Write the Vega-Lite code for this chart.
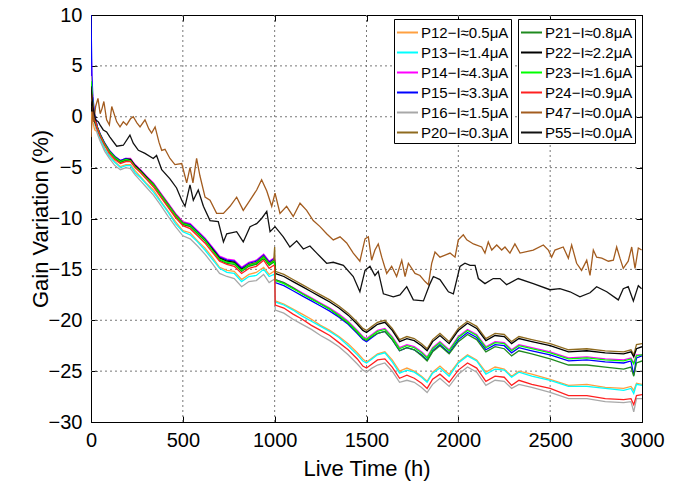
{
  "$schema": "https://vega.github.io/schema/vega-lite/v6.json",
  "width": 551,
  "height": 407,
  "autosize": {"type": "none"},
  "padding": {"left": 91, "top": 15, "right": 40, "bottom": 62},
  "background": "white",
  "config": {
    "view": {"stroke": "black", "strokeWidth": 1},
    "font": "Liberation Sans",
    "axis": {"labelFont": "Liberation Sans", "titleFont": "Liberation Sans", "labelColor": "black", "titleColor": "black", "domainColor": "black", "tickColor": "black", "titleFontWeight": "normal", "labelOverlap": false, "labelFlush": false},
    "legend": {"labelFont": "Liberation Sans"}
  },
  "datasets": {
    "gridx": [{"gx": 500}, {"gx": 1000}, {"gx": 1500}, {"gx": 2000}, {"gx": 2500}],
    "gridy": [{"gy": -25}, {"gy": -20}, {"gy": -15}, {"gy": -10}, {"gy": -5}, {"gy": 0}, {"gy": 5}],
    "labels": [
      {"key": "P12", "label": "P12−I≈0.5μA"},
      {"key": "P13", "label": "P13−I≈1.4μA"},
      {"key": "P14", "label": "P14−I≈4.3μA"},
      {"key": "P15", "label": "P15−I≈3.3μA"},
      {"key": "P16", "label": "P16−I≈1.5μA"},
      {"key": "P20", "label": "P20−I≈0.3μA"},
      {"key": "P21", "label": "P21−I≈0.8μA"},
      {"key": "P22", "label": "P22−I≈2.2μA"},
      {"key": "P23", "label": "P23−I≈1.6μA"},
      {"key": "P24", "label": "P24−I≈0.9μA"},
      {"key": "P47", "label": "P47−I≈0.0μA"},
      {"key": "P55", "label": "P55−I≈0.0μA"}
    ],
    "g1": [
      {"t": 0, "P12": -1.0, "P13": 2.0, "P14": 7.5, "P15": 10, "P16": 4.0, "P20": 2.0},
      {"t": 5, "P12": 0.5, "P13": 2.0, "P14": 3.0, "P15": 4.0, "P16": 2.5, "P20": 2.0},
      {"t": 10, "P12": -0.5, "P13": 0.8, "P14": 1.5, "P15": 2.0, "P16": 1.0, "P20": 1.0},
      {"t": 20, "P12": -1.3, "P13": -0.6, "P14": 0.0, "P15": 0.2, "P16": -0.6, "P20": -0.3},
      {"t": 35, "P12": -1.5, "P13": -1.5, "P14": -1.0, "P15": -1.0, "P16": -1.7, "P20": -1.1},
      {"t": 50, "P12": -2.2, "P13": -2.2, "P14": -1.7, "P15": -1.7, "P16": -2.4, "P20": -1.8},
      {"t": 75, "P12": -3.1, "P13": -3.2, "P14": -2.6, "P15": -2.6, "P16": -3.4, "P20": -2.7},
      {"t": 100, "P12": -3.8, "P13": -3.9, "P14": -3.3, "P15": -3.3, "P16": -4.1, "P20": -3.4},
      {"t": 130, "P12": -4.4, "P13": -4.5, "P14": -3.9, "P15": -3.9, "P16": -4.8, "P20": -4.0},
      {"t": 160, "P12": -4.9, "P13": -5.0, "P14": -4.3, "P15": -4.3, "P16": -5.2, "P20": -4.4},
      {"t": 190, "P12": -4.7, "P13": -4.8, "P14": -4.1, "P15": -4.1, "P16": -5.0, "P20": -4.2},
      {"t": 215, "P12": -4.7, "P13": -4.8, "P14": -4.1, "P15": -4.2, "P16": -5.1, "P20": -4.2},
      {"t": 240, "P12": -5.3, "P13": -5.5, "P14": -4.7, "P15": -4.8, "P16": -5.7, "P20": -4.8},
      {"t": 270, "P12": -5.9, "P13": -6.0, "P14": -5.2, "P15": -5.3, "P16": -6.3, "P20": -5.3},
      {"t": 300, "P12": -6.5, "P13": -6.6, "P14": -5.8, "P15": -5.9, "P16": -6.9, "P20": -5.9},
      {"t": 340, "P12": -7.2, "P13": -7.4, "P14": -6.5, "P15": -6.6, "P16": -7.7, "P20": -6.6},
      {"t": 380, "P12": -8.3, "P13": -8.4, "P14": -7.5, "P15": -7.6, "P16": -8.7, "P20": -7.6},
      {"t": 420, "P12": -9.3, "P13": -9.4, "P14": -8.5, "P15": -8.6, "P16": -9.8, "P20": -8.6},
      {"t": 460, "P12": -10.3, "P13": -10.5, "P14": -9.5, "P15": -9.6, "P16": -10.8, "P20": -9.6},
      {"t": 500, "P12": -11.2, "P13": -11.3, "P14": -10.3, "P15": -10.4, "P16": -11.7, "P20": -10.4},
      {"t": 540, "P12": -11.4, "P13": -11.6, "P14": -10.5, "P15": -10.6, "P16": -12.0, "P20": -10.7},
      {"t": 580, "P12": -12.2, "P13": -12.3, "P14": -11.2, "P15": -11.3, "P16": -12.7, "P20": -11.4},
      {"t": 620, "P12": -12.9, "P13": -13.1, "P14": -11.9, "P15": -12.0, "P16": -13.5, "P20": -12.1},
      {"t": 660, "P12": -13.8, "P13": -14.0, "P14": -12.8, "P15": -12.9, "P16": -14.4, "P20": -13.0},
      {"t": 700, "P12": -14.8, "P13": -14.9, "P14": -13.7, "P15": -13.8, "P16": -15.4, "P20": -13.9},
      {"t": 740, "P12": -15.1, "P13": -15.3, "P14": -14.0, "P15": -14.1, "P16": -15.7, "P20": -14.2},
      {"t": 780, "P12": -15.2, "P13": -15.4, "P14": -14.1, "P15": -14.2, "P16": -15.9, "P20": -14.3},
      {"t": 820, "P12": -16.0, "P13": -16.2, "P14": -14.8, "P15": -14.9, "P16": -16.7, "P20": -15.0},
      {"t": 860, "P12": -15.5, "P13": -15.7, "P14": -14.3, "P15": -14.4, "P16": -16.2, "P20": -14.5},
      {"t": 900, "P12": -15.3, "P13": -15.6, "P14": -14.1, "P15": -14.2, "P16": -16.1, "P20": -14.3},
      {"t": 940, "P12": -14.8, "P13": -15.0, "P14": -13.5, "P15": -13.6, "P16": -15.5, "P20": -13.7},
      {"t": 970, "P12": -15.5, "P13": -15.7, "P14": -14.2, "P15": -14.3, "P16": -16.3, "P20": -14.4},
      {"t": 995, "P12": -15.2, "P13": -15.5, "P14": -13.9, "P15": -14.0, "P16": -16.0, "P20": -14.1},
      {"t": 1000, "P12": -15.3, "P13": -15.6, "P14": -14.0, "P15": -14.1, "P16": -16.1, "P20": -12.8},
      {"t": 1003, "P12": -18.1, "P13": -18.2, "P14": -16.0, "P15": -16.3, "P16": -19.0, "P20": -15.2},
      {"t": 1050, "P12": -18.4, "P13": -18.5, "P14": -16.3, "P15": -16.6, "P16": -19.3, "P20": -15.5},
      {"t": 1100, "P12": -18.9, "P13": -19.0, "P14": -16.8, "P15": -17.1, "P16": -19.9, "P20": -16.0},
      {"t": 1150, "P12": -19.4, "P13": -19.6, "P14": -17.3, "P15": -17.6, "P16": -20.4, "P20": -16.5},
      {"t": 1200, "P12": -19.9, "P13": -20.1, "P14": -17.8, "P15": -18.1, "P16": -20.9, "P20": -17.0},
      {"t": 1250, "P12": -20.5, "P13": -20.6, "P14": -18.3, "P15": -18.6, "P16": -21.5, "P20": -17.5},
      {"t": 1300, "P12": -21.0, "P13": -21.1, "P14": -18.8, "P15": -19.1, "P16": -22.0, "P20": -18.0},
      {"t": 1350, "P12": -21.6, "P13": -21.7, "P14": -19.4, "P15": -19.7, "P16": -22.6, "P20": -18.6},
      {"t": 1400, "P12": -22.3, "P13": -22.5, "P14": -20.1, "P15": -20.4, "P16": -23.4, "P20": -19.3},
      {"t": 1450, "P12": -23.2, "P13": -23.4, "P14": -21.0, "P15": -21.3, "P16": -24.3, "P20": -20.2},
      {"t": 1480, "P12": -23.8, "P13": -24.0, "P14": -21.6, "P15": -21.9, "P16": -24.9, "P20": -20.8},
      {"t": 1500, "P12": -24.1, "P13": -24.2, "P14": -21.8, "P15": -22.1, "P16": -25.1, "P20": -21.0},
      {"t": 1530, "P12": -23.7, "P13": -23.8, "P14": -21.4, "P15": -21.7, "P16": -24.7, "P20": -20.6},
      {"t": 1560, "P12": -23.3, "P13": -23.4, "P14": -21.0, "P15": -21.3, "P16": -24.4, "P20": -20.2},
      {"t": 1600, "P12": -23.1, "P13": -23.2, "P14": -20.8, "P15": -21.1, "P16": -24.2, "P20": -20.0},
      {"t": 1640, "P12": -23.9, "P13": -24.1, "P14": -21.6, "P15": -21.9, "P16": -25.0, "P20": -20.8},
      {"t": 1680, "P12": -25.0, "P13": -25.2, "P14": -22.7, "P15": -23.0, "P16": -26.1, "P20": -21.9},
      {"t": 1720, "P12": -24.7, "P13": -24.9, "P14": -22.4, "P15": -22.7, "P16": -25.9, "P20": -21.6},
      {"t": 1760, "P12": -25.0, "P13": -25.1, "P14": -22.6, "P15": -22.9, "P16": -26.1, "P20": -21.8},
      {"t": 1800, "P12": -25.5, "P13": -25.6, "P14": -23.1, "P15": -23.4, "P16": -26.6, "P20": -22.3},
      {"t": 1830, "P12": -26.0, "P13": -26.1, "P14": -23.6, "P15": -23.9, "P16": -27.1, "P20": -22.8},
      {"t": 1860, "P12": -25.1, "P13": -25.2, "P14": -22.7, "P15": -23.0, "P16": -26.3, "P20": -21.9},
      {"t": 1900, "P12": -24.5, "P13": -24.7, "P14": -22.1, "P15": -22.4, "P16": -25.7, "P20": -21.3},
      {"t": 1950, "P12": -25.3, "P13": -25.5, "P14": -22.9, "P15": -23.2, "P16": -26.5, "P20": -22.1},
      {"t": 2000, "P12": -24.1, "P13": -24.2, "P14": -21.6, "P15": -21.9, "P16": -25.3, "P20": -20.8},
      {"t": 2050, "P12": -23.4, "P13": -23.5, "P14": -20.9, "P15": -21.2, "P16": -24.6, "P20": -20.1},
      {"t": 2100, "P12": -23.9, "P13": -24.0, "P14": -21.4, "P15": -21.7, "P16": -25.1, "P20": -20.6},
      {"t": 2150, "P12": -25.1, "P13": -25.3, "P14": -22.6, "P15": -22.9, "P16": -26.4, "P20": -21.8},
      {"t": 2200, "P12": -24.6, "P13": -24.8, "P14": -22.1, "P15": -22.4, "P16": -25.9, "P20": -21.3},
      {"t": 2250, "P12": -24.8, "P13": -24.9, "P14": -22.2, "P15": -22.5, "P16": -26.0, "P20": -21.4},
      {"t": 2290, "P12": -25.5, "P13": -25.6, "P14": -22.9, "P15": -23.2, "P16": -26.7, "P20": -22.1},
      {"t": 2330, "P12": -25.0, "P13": -25.1, "P14": -22.4, "P15": -22.7, "P16": -26.3, "P20": -21.6},
      {"t": 2400, "P12": -25.3, "P13": -25.5, "P14": -22.7, "P15": -23.0, "P16": -26.6, "P20": -21.9},
      {"t": 2500, "P12": -25.8, "P13": -25.9, "P14": -23.1, "P15": -23.4, "P16": -27.1, "P20": -22.3},
      {"t": 2600, "P12": -26.4, "P13": -26.5, "P14": -23.7, "P15": -24.0, "P16": -27.7, "P20": -22.9},
      {"t": 2700, "P12": -26.3, "P13": -26.5, "P14": -23.6, "P15": -23.9, "P16": -27.7, "P20": -22.8},
      {"t": 2800, "P12": -26.6, "P13": -26.7, "P14": -23.8, "P15": -24.1, "P16": -28.0, "P20": -23.0},
      {"t": 2900, "P12": -26.7, "P13": -26.9, "P14": -23.9, "P15": -24.2, "P16": -28.1, "P20": -23.1},
      {"t": 2940, "P12": -26.5, "P13": -26.7, "P14": -23.7, "P15": -24.0, "P16": -28.0, "P20": -22.9},
      {"t": 2955, "P12": -26.9, "P13": -27.2, "P14": -24.2, "P15": -25.4, "P16": -29.0, "P20": -23.4},
      {"t": 2970, "P12": -26.2, "P13": -26.3, "P14": -23.4, "P15": -23.7, "P16": -27.7, "P20": -22.4},
      {"t": 3000, "P12": -26.3, "P13": -26.4, "P14": -23.4, "P15": -23.5, "P16": -27.7, "P20": -22.3}
    ],
    "g2": [
      {"t": 0, "P21": 1.0, "P22": 1.0, "P23": 3.5, "P24": 2.5},
      {"t": 5, "P21": 1.5, "P22": 1.5, "P23": 2.5, "P24": 2.0},
      {"t": 10, "P21": 0.8, "P22": 0.5, "P23": 1.2, "P24": 1.0},
      {"t": 20, "P21": -0.5, "P22": -0.4, "P23": -0.2, "P24": -0.2},
      {"t": 35, "P21": -1.2, "P22": -1.1, "P23": -1.1, "P24": -1.2},
      {"t": 50, "P21": -1.9, "P22": -1.8, "P23": -1.8, "P24": -1.9},
      {"t": 75, "P21": -2.8, "P22": -2.7, "P23": -2.7, "P24": -2.8},
      {"t": 100, "P21": -3.5, "P22": -3.4, "P23": -3.4, "P24": -3.6},
      {"t": 130, "P21": -4.1, "P22": -4.0, "P23": -4.0, "P24": -4.2},
      {"t": 160, "P21": -4.5, "P22": -4.4, "P23": -4.4, "P24": -4.6},
      {"t": 190, "P21": -4.3, "P22": -4.2, "P23": -4.2, "P24": -4.4},
      {"t": 215, "P21": -4.3, "P22": -4.2, "P23": -4.3, "P24": -4.4},
      {"t": 240, "P21": -4.9, "P22": -4.8, "P23": -4.9, "P24": -5.0},
      {"t": 270, "P21": -5.4, "P22": -5.3, "P23": -5.4, "P24": -5.5},
      {"t": 300, "P21": -6.0, "P22": -5.9, "P23": -6.0, "P24": -6.1},
      {"t": 340, "P21": -6.7, "P22": -6.7, "P23": -6.7, "P24": -6.9},
      {"t": 380, "P21": -7.8, "P22": -7.7, "P23": -7.7, "P24": -7.9},
      {"t": 420, "P21": -8.8, "P22": -8.7, "P23": -8.7, "P24": -8.9},
      {"t": 460, "P21": -9.8, "P22": -9.7, "P23": -9.7, "P24": -9.9},
      {"t": 500, "P21": -10.6, "P22": -10.5, "P23": -10.5, "P24": -10.7},
      {"t": 540, "P21": -10.8, "P22": -10.7, "P23": -10.7, "P24": -11.0},
      {"t": 580, "P21": -11.5, "P22": -11.4, "P23": -11.4, "P24": -11.7},
      {"t": 620, "P21": -12.2, "P22": -12.1, "P23": -12.1, "P24": -12.4},
      {"t": 660, "P21": -13.1, "P22": -13.0, "P23": -13.1, "P24": -13.3},
      {"t": 700, "P21": -14.1, "P22": -13.9, "P23": -14.0, "P24": -14.2},
      {"t": 740, "P21": -14.4, "P22": -14.2, "P23": -14.3, "P24": -14.5},
      {"t": 780, "P21": -14.5, "P22": -14.3, "P23": -14.4, "P24": -14.7},
      {"t": 820, "P21": -15.2, "P22": -15.0, "P23": -15.1, "P24": -15.4},
      {"t": 860, "P21": -14.7, "P22": -14.6, "P23": -14.6, "P24": -14.9},
      {"t": 900, "P21": -14.5, "P22": -14.4, "P23": -14.4, "P24": -14.7},
      {"t": 940, "P21": -13.9, "P22": -13.8, "P23": -13.8, "P24": -14.1},
      {"t": 970, "P21": -14.6, "P22": -14.5, "P23": -14.5, "P24": -14.9},
      {"t": 995, "P21": -14.3, "P22": -14.2, "P23": -14.2, "P24": -14.6},
      {"t": 1000, "P21": -14.4, "P22": -14.3, "P23": -14.3, "P24": -14.7},
      {"t": 1003, "P21": -16.0, "P22": -15.4, "P23": -16.1, "P24": -18.5},
      {"t": 1050, "P21": -16.3, "P22": -15.7, "P23": -16.4, "P24": -18.8},
      {"t": 1100, "P21": -16.8, "P22": -16.2, "P23": -16.9, "P24": -19.4},
      {"t": 1150, "P21": -17.4, "P22": -16.7, "P23": -17.4, "P24": -19.9},
      {"t": 1200, "P21": -17.9, "P22": -17.2, "P23": -17.9, "P24": -20.5},
      {"t": 1250, "P21": -18.4, "P22": -17.7, "P23": -18.4, "P24": -21.0},
      {"t": 1300, "P21": -18.9, "P22": -18.2, "P23": -18.9, "P24": -21.5},
      {"t": 1350, "P21": -19.6, "P22": -18.8, "P23": -19.5, "P24": -22.2},
      {"t": 1400, "P21": -20.3, "P22": -19.5, "P23": -20.2, "P24": -22.9},
      {"t": 1450, "P21": -21.2, "P22": -20.4, "P23": -21.1, "P24": -23.8},
      {"t": 1480, "P21": -21.8, "P22": -21.0, "P23": -21.7, "P24": -24.5},
      {"t": 1500, "P21": -22.0, "P22": -21.2, "P23": -21.9, "P24": -24.7},
      {"t": 1530, "P21": -21.6, "P22": -20.8, "P23": -21.5, "P24": -24.3},
      {"t": 1560, "P21": -21.3, "P22": -20.4, "P23": -21.1, "P24": -23.9},
      {"t": 1600, "P21": -21.1, "P22": -20.2, "P23": -20.9, "P24": -23.8},
      {"t": 1640, "P21": -21.9, "P22": -21.0, "P23": -21.7, "P24": -24.6},
      {"t": 1680, "P21": -23.0, "P22": -22.1, "P23": -22.8, "P24": -25.7},
      {"t": 1720, "P21": -22.7, "P22": -21.8, "P23": -22.5, "P24": -25.4},
      {"t": 1760, "P21": -22.9, "P22": -22.0, "P23": -22.7, "P24": -25.7},
      {"t": 1800, "P21": -23.5, "P22": -22.5, "P23": -23.2, "P24": -26.2},
      {"t": 1830, "P21": -24.0, "P22": -23.0, "P23": -23.7, "P24": -26.7},
      {"t": 1860, "P21": -23.1, "P22": -22.1, "P23": -22.8, "P24": -25.8},
      {"t": 1900, "P21": -22.5, "P22": -21.5, "P23": -22.2, "P24": -25.3},
      {"t": 1950, "P21": -23.3, "P22": -22.3, "P23": -23.0, "P24": -26.1},
      {"t": 2000, "P21": -22.1, "P22": -21.0, "P23": -21.7, "P24": -24.9},
      {"t": 2050, "P21": -21.4, "P22": -20.3, "P23": -21.0, "P24": -24.2},
      {"t": 2100, "P21": -21.9, "P22": -20.8, "P23": -21.5, "P24": -24.7},
      {"t": 2150, "P21": -23.1, "P22": -22.0, "P23": -22.7, "P24": -26.0},
      {"t": 2200, "P21": -22.6, "P22": -21.5, "P23": -22.2, "P24": -25.5},
      {"t": 2250, "P21": -22.8, "P22": -21.6, "P23": -22.3, "P24": -25.6},
      {"t": 2290, "P21": -23.5, "P22": -22.3, "P23": -23.0, "P24": -26.4},
      {"t": 2330, "P21": -23.0, "P22": -21.8, "P23": -22.5, "P24": -25.9},
      {"t": 2400, "P21": -23.3, "P22": -22.1, "P23": -22.8, "P24": -26.3},
      {"t": 2500, "P21": -23.8, "P22": -22.5, "P23": -23.2, "P24": -26.7},
      {"t": 2600, "P21": -24.4, "P22": -23.1, "P23": -23.8, "P24": -27.4},
      {"t": 2700, "P21": -24.4, "P22": -23.0, "P23": -23.7, "P24": -27.4},
      {"t": 2800, "P21": -24.6, "P22": -23.2, "P23": -23.9, "P24": -27.7},
      {"t": 2900, "P21": -24.8, "P22": -23.3, "P23": -24.0, "P24": -27.8},
      {"t": 2940, "P21": -24.6, "P22": -23.1, "P23": -23.8, "P24": -27.7},
      {"t": 2955, "P21": -25.5, "P22": -23.6, "P23": -24.3, "P24": -28.3},
      {"t": 2970, "P21": -24.2, "P22": -22.8, "P23": -23.5, "P24": -27.4},
      {"t": 3000, "P21": -24.0, "P22": -22.6, "P23": -23.4, "P24": -27.3},
      {"t": 0, "P47": -2.0}, {"t": 8, "P47": 0.5}, {"t": 15, "P47": -0.5}, {"t": 25, "P47": 1.0},
      {"t": 38, "P47": 1.8}, {"t": 50, "P47": 0.3}, {"t": 60, "P47": 0.8}, {"t": 70, "P47": 1.5},
      {"t": 85, "P47": -0.3}, {"t": 100, "P47": -0.8}, {"t": 113, "P47": 1.0}, {"t": 140, "P47": -0.5},
      {"t": 158, "P47": -1.0}, {"t": 176, "P47": -0.5}, {"t": 194, "P47": -0.8}, {"t": 215, "P47": -0.2},
      {"t": 230, "P47": 0.0}, {"t": 250, "P47": -0.6}, {"t": 267, "P47": -1.0}, {"t": 294, "P47": -0.3},
      {"t": 315, "P47": -1.2}, {"t": 330, "P47": -1.6}, {"t": 349, "P47": -1.0}, {"t": 370, "P47": -2.5},
      {"t": 385, "P47": -3.3}, {"t": 403, "P47": -3.2}, {"t": 430, "P47": -4.1}, {"t": 457, "P47": -4.7},
      {"t": 494, "P47": -4.6}, {"t": 521, "P47": -6.5}, {"t": 539, "P47": -5.0}, {"t": 555, "P47": -6.5},
      {"t": 575, "P47": -4.1}, {"t": 593, "P47": -5.8}, {"t": 621, "P47": -7.9}, {"t": 648, "P47": -8.2},
      {"t": 684, "P47": -9.5}, {"t": 721, "P47": -9.5}, {"t": 757, "P47": -8.8}, {"t": 793, "P47": -7.9},
      {"t": 829, "P47": -9.2}, {"t": 866, "P47": -8.2}, {"t": 902, "P47": -7.2}, {"t": 929, "P47": -6.2},
      {"t": 957, "P47": -7.3}, {"t": 984, "P47": -8.8}, {"t": 1002, "P47": -7.5}, {"t": 1029, "P47": -9.5},
      {"t": 1065, "P47": -8.8}, {"t": 1101, "P47": -9.8}, {"t": 1138, "P47": -8.5}, {"t": 1174, "P47": -9.2},
      {"t": 1210, "P47": -10.2}, {"t": 1247, "P47": -10.8}, {"t": 1283, "P47": -11.5}, {"t": 1319, "P47": -12.1},
      {"t": 1356, "P47": -11.8}, {"t": 1392, "P47": -12.4}, {"t": 1428, "P47": -13.4}, {"t": 1464, "P47": -14.2},
      {"t": 1492, "P47": -12.0}, {"t": 1510, "P47": -11.8}, {"t": 1528, "P47": -14.1}, {"t": 1546, "P47": -13.1},
      {"t": 1564, "P47": -12.5}, {"t": 1583, "P47": -13.8}, {"t": 1610, "P47": -15.4}, {"t": 1637, "P47": -14.7},
      {"t": 1664, "P47": -15.7}, {"t": 1692, "P47": -14.1}, {"t": 1710, "P47": -15.7}, {"t": 1728, "P47": -14.4},
      {"t": 1764, "P47": -15.4}, {"t": 1791, "P47": -15.6}, {"t": 1819, "P47": -16.2}, {"t": 1837, "P47": -16.5},
      {"t": 1855, "P47": -14.4}, {"t": 1873, "P47": -13.3}, {"t": 1900, "P47": -13.8}, {"t": 1928, "P47": -13.6},
      {"t": 1955, "P47": -13.4}, {"t": 1982, "P47": -13.8}, {"t": 2000, "P47": -12.1}, {"t": 2027, "P47": -11.6},
      {"t": 2046, "P47": -12.1}, {"t": 2082, "P47": -12.5}, {"t": 2127, "P47": -12.8}, {"t": 2145, "P47": -13.4},
      {"t": 2163, "P47": -12.3}, {"t": 2182, "P47": -13.1}, {"t": 2209, "P47": -12.6}, {"t": 2236, "P47": -13.1},
      {"t": 2254, "P47": -12.8}, {"t": 2281, "P47": -13.4}, {"t": 2308, "P47": -12.5}, {"t": 2336, "P47": -13.4},
      {"t": 2408, "P47": -13.1}, {"t": 2463, "P47": -12.6}, {"t": 2490, "P47": -13.1}, {"t": 2508, "P47": -13.8},
      {"t": 2526, "P47": -13.1}, {"t": 2571, "P47": -12.8}, {"t": 2599, "P47": -13.9}, {"t": 2617, "P47": -12.6},
      {"t": 2644, "P47": -14.4}, {"t": 2671, "P47": -15.1}, {"t": 2699, "P47": -14.1}, {"t": 2717, "P47": -15.6},
      {"t": 2735, "P47": -13.1}, {"t": 2753, "P47": -13.8}, {"t": 2781, "P47": -13.9}, {"t": 2817, "P47": -14.2},
      {"t": 2844, "P47": -14.1}, {"t": 2862, "P47": -12.8}, {"t": 2880, "P47": -13.9}, {"t": 2898, "P47": -14.9},
      {"t": 2925, "P47": -14.2}, {"t": 2944, "P47": -12.8}, {"t": 2962, "P47": -14.9}, {"t": 2980, "P47": -12.9},
      {"t": 2998, "P47": -13.1},
      {"t": 0, "P55": 3.0}, {"t": 10, "P55": 1.0}, {"t": 25, "P55": -0.3}, {"t": 40, "P55": -0.5},
      {"t": 49, "P55": -0.8}, {"t": 67, "P55": -1.3}, {"t": 85, "P55": -1.5}, {"t": 103, "P55": -2.0},
      {"t": 140, "P55": -2.9}, {"t": 176, "P55": -2.8}, {"t": 212, "P55": -1.8}, {"t": 230, "P55": -2.6},
      {"t": 258, "P55": -3.3}, {"t": 294, "P55": -3.6}, {"t": 339, "P55": -4.1}, {"t": 357, "P55": -3.8},
      {"t": 385, "P55": -5.2}, {"t": 430, "P55": -6.1}, {"t": 466, "P55": -7.0}, {"t": 494, "P55": -8.2},
      {"t": 512, "P55": -8.8}, {"t": 539, "P55": -6.7}, {"t": 557, "P55": -8.2}, {"t": 584, "P55": -7.2},
      {"t": 612, "P55": -8.8}, {"t": 648, "P55": -10.2}, {"t": 693, "P55": -10.3}, {"t": 721, "P55": -12.3},
      {"t": 739, "P55": -11.5}, {"t": 793, "P55": -11.3}, {"t": 829, "P55": -12.3}, {"t": 866, "P55": -10.8},
      {"t": 902, "P55": -10.5}, {"t": 929, "P55": -10.0}, {"t": 957, "P55": -9.3}, {"t": 975, "P55": -11.3},
      {"t": 1002, "P55": -10.8}, {"t": 1047, "P55": -11.8}, {"t": 1083, "P55": -12.8}, {"t": 1120, "P55": -12.2},
      {"t": 1156, "P55": -13.0}, {"t": 1192, "P55": -12.7}, {"t": 1229, "P55": -13.4}, {"t": 1283, "P55": -14.4},
      {"t": 1319, "P55": -14.3}, {"t": 1374, "P55": -14.6}, {"t": 1428, "P55": -15.7}, {"t": 1464, "P55": -17.2},
      {"t": 1492, "P55": -15.1}, {"t": 1519, "P55": -14.7}, {"t": 1546, "P55": -15.6}, {"t": 1564, "P55": -15.2},
      {"t": 1592, "P55": -17.4}, {"t": 1646, "P55": -17.7}, {"t": 1682, "P55": -17.5}, {"t": 1719, "P55": -16.7},
      {"t": 1755, "P55": -18.0}, {"t": 1810, "P55": -18.1}, {"t": 1846, "P55": -16.4}, {"t": 1864, "P55": -15.7},
      {"t": 1900, "P55": -16.0}, {"t": 1946, "P55": -17.2}, {"t": 1973, "P55": -17.4}, {"t": 2009, "P55": -14.7},
      {"t": 2036, "P55": -14.4}, {"t": 2064, "P55": -14.6}, {"t": 2091, "P55": -14.6}, {"t": 2109, "P55": -15.9},
      {"t": 2145, "P55": -16.4}, {"t": 2190, "P55": -15.9}, {"t": 2227, "P55": -15.9}, {"t": 2263, "P55": -16.5},
      {"t": 2326, "P55": -15.9}, {"t": 2408, "P55": -16.4}, {"t": 2499, "P55": -17.0}, {"t": 2553, "P55": -16.9},
      {"t": 2608, "P55": -17.2}, {"t": 2662, "P55": -17.7}, {"t": 2717, "P55": -17.3}, {"t": 2753, "P55": -16.7},
      {"t": 2808, "P55": -17.2}, {"t": 2871, "P55": -18.0}, {"t": 2898, "P55": -16.9}, {"t": 2925, "P55": -16.7},
      {"t": 2953, "P55": -18.1}, {"t": 2980, "P55": -16.6}, {"t": 2998, "P55": -16.9}
    ]
  },
  "layer": [
    {
      "data": {"name": "gridx"},
      "mark": {"type": "rule", "color": "#777777", "strokeWidth": 1, "strokeDash": [2, 3], "opacity": 1},
      "encoding": {"x": {"field": "gx", "type": "quantitative", "axis": null}}
    },
    {
      "data": {"name": "gridy"},
      "mark": {"type": "rule", "color": "#777777", "strokeWidth": 1, "strokeDash": [2, 3], "opacity": 1},
      "encoding": {"y": {"field": "gy", "type": "quantitative", "axis": null}}
    },
    {
      "data": {"name": "g1"},
      "transform": [
        {"fold": ["P12", "P13", "P14", "P15", "P16", "P20"], "as": ["key", "value"]},
        {"filter": "isValid(datum.value)"},
        {"lookup": "key", "from": {"data": {"name": "labels"}, "key": "key", "fields": ["label"]}}
      ],
      "mark": {"type": "line", "strokeWidth": 1.3, "clip": true},
      "encoding": {
        "x": {"field": "t", "type": "quantitative", "scale": {"domain": [0, 3000], "nice": false},
          "axis": {"orient": "bottom", "values": [0, 500, 1000, 1500, 2000, 2500, 3000], "format": "d", "title": "Live Time (h)", "titleFontSize": 22, "labelFontSize": 20, "tickSize": -6, "labelPadding": 14, "grid": false, "titleY": 46, "titleBaseline": "middle"}},
        "y": {"field": "value", "type": "quantitative", "scale": {"domain": [-30, 10], "nice": false},
          "axis": {"orient": "left", "values": [-30, -25, -20, -15, -10, -5, 0, 5, 10], "format": "d", "title": "Gain Variation (%)", "titleFontSize": 22, "labelFontSize": 20, "tickSize": -6, "labelPadding": 15, "grid": false, "titleX": -51, "titleBaseline": "middle"}},
        "color": {"field": "label", "type": "nominal",
          "scale": {"domain": ["P12−I≈0.5μA", "P13−I≈1.4μA", "P14−I≈4.3μA", "P15−I≈3.3μA", "P16−I≈1.5μA", "P20−I≈0.3μA"],
                    "range": ["#ffa040", "#00ffff", "#ff00ff", "#0000ff", "#a8a8a8", "#8f6b1f"]},
          "legend": {"orient": "none", "legendX": 303, "legendY": 4, "title": null, "symbolType": "stroke", "symbolStrokeWidth": 2, "symbolSize": 441, "labelFontSize": 15, "labelColor": "black", "strokeColor": "black", "fillColor": "white", "padding": 2, "rowPadding": 0, "labelOffset": 2, "labelLimit": 300}}
      }
    },
    {
      "data": {"name": "g2"},
      "transform": [
        {"fold": ["P21", "P22", "P23", "P24", "P47", "P55"], "as": ["key", "value"]},
        {"filter": "isValid(datum.value)"},
        {"lookup": "key", "from": {"data": {"name": "labels"}, "key": "key", "fields": ["label"]}}
      ],
      "mark": {"type": "line", "strokeWidth": 1.3, "clip": true},
      "encoding": {
        "x": {"field": "t", "type": "quantitative",
          "axis": {"orient": "top", "values": [0, 500, 1000, 1500, 2000, 2500, 3000], "labels": false, "title": null, "grid": false, "tickSize": -6}},
        "y": {"field": "value", "type": "quantitative",
          "axis": {"orient": "right", "values": [-30, -25, -20, -15, -10, -5, 0, 5, 10], "labels": false, "title": null, "grid": false, "tickSize": -6}},
        "color": {"field": "label", "type": "nominal",
          "scale": {"domain": ["P21−I≈0.8μA", "P22−I≈2.2μA", "P23−I≈1.6μA", "P24−I≈0.9μA", "P47−I≈0.0μA", "P55−I≈0.0μA"],
                    "range": ["#1f8a1f", "#000000", "#00ff00", "#ff2020", "#a35c1f", "#111111"]},
          "legend": {"orient": "none", "legendX": 427, "legendY": 4, "title": null, "symbolType": "stroke", "symbolStrokeWidth": 2, "symbolSize": 441, "labelFontSize": 15, "labelColor": "black", "strokeColor": "black", "fillColor": "white", "padding": 2, "rowPadding": 0, "labelOffset": 2, "labelLimit": 300}}
      }
    }
  ],
  "resolve": {"scale": {"color": "independent"}, "axis": {"x": "independent", "y": "independent"}}
}
